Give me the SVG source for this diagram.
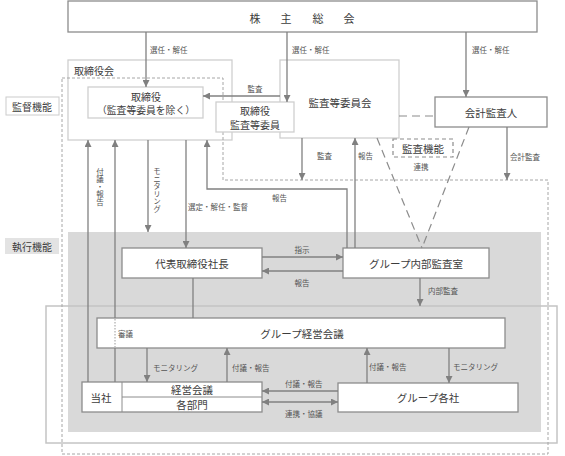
<svg xmlns="http://www.w3.org/2000/svg" width="565" height="456" viewBox="0 0 565 456">
<style>
text { font-family: "Noto Sans CJK JP", "Noto Sans CJK SC", sans-serif; fill:#3c3c3c; dominant-baseline: central; }
.m { font-size:10.5px; text-anchor: middle; }
.t { font-size:10px; text-anchor: middle; }
.s { font-size:7.5px; fill:#555; }
.sc { font-size:7.5px; fill:#555; text-anchor: middle; }
.v { font-size:7.5px; fill:#555; writing-mode: vertical-rl; text-anchor: middle; }
.box { fill:#fff; stroke:#8c8c8c; stroke-width:1.3; }
.lbox { fill:#fff; stroke:#cfcfcf; stroke-width:1.3; }
.a { stroke:#808080; stroke-width:1.3; fill:none; }
.dash { stroke:#8c8c8c; stroke-width:1.2; fill:none; stroke-dasharray:8 5; }
</style>
<defs>
<marker id="ah" viewBox="0 0 10 10" refX="10" refY="5" markerWidth="7" markerHeight="7" markerUnits="userSpaceOnUse" orient="auto-start-reverse"><path d="M0,0 L10,5 L0,10 z" fill="#808080"/></marker>
</defs>
<rect width="565" height="456" fill="#fff"/>

<g id="areas">
<rect x="68" y="232" width="473" height="200" fill="#d9d9d9"/>
<rect x="46" y="306" width="511" height="137" fill="none" stroke="#c4c4c4" stroke-width="1.5"/>
<rect id="lbl-kantoku" x="6" y="97" width="53" height="18" fill="#fff" stroke="#cccccc"/>
<text class="t" x="32" y="106">監督機能</text>
<rect id="lbl-shikko" x="5" y="238" width="54" height="16" fill="#e3e3e3"/>
<text class="t" x="32" y="246">執行機能</text>
</g>

<g id="shareholders">
<rect class="box" x="68" y="1" width="469" height="31"/>
<text x="255 286 318 349" y="18" style="font-size:11px;text-anchor:middle">株主総会</text>
</g>

<g id="board">
<rect class="lbox" x="68" y="60" width="164" height="80"/>
<text x="74" y="70" style="font-size:10px">取締役会</text>
</g>

<g id="audit-committee">
<rect class="lbox" x="280" y="60" width="119" height="78"/>
<text class="m" x="340" y="102">監査等委員会</text>
</g>

<path d="M62,78 H223 V180 H548 V454 H62 Z" fill="none" stroke="#a6a6a6" stroke-width="1" stroke-dasharray="3 2"/>

<g id="directors">
<rect class="lbox" x="88" y="87" width="115" height="31"/>
<text class="t" x="146" y="96">取締役</text>
<text class="t" x="146" y="110" style="font-size:9.8px">（監査等委員を除く）</text>
</g>

<g id="audit-directors">
<rect class="lbox" x="216" y="102" width="78" height="30"/>
<text class="t" x="255" y="110.5">取締役</text>
<text class="t" x="255" y="124.5">監査等委員</text>
</g>

<g id="accounting-auditor">
<rect class="box" x="435" y="97" width="112" height="30"/>
<text class="m" x="491" y="112">会計監査人</text>
</g>

<g id="audit-function">
<rect x="393" y="139" width="60" height="18" fill="#fff" stroke="#8c8c8c" stroke-width="1.2" stroke-dasharray="4 3"/>
<text class="m" x="423" y="148">監査機能</text>
</g>

<g id="president">
<rect class="box" x="122" y="248" width="140" height="30"/>
<text class="m" x="192" y="263">代表取締役社長</text>
</g>

<g id="internal-audit">
<rect class="box" x="343" y="248" width="146" height="30"/>
<text class="m" x="416" y="263">グループ内部監査室</text>
</g>

<g id="group-mgmt">
<rect class="box" x="97" y="318" width="408" height="30"/>
<text class="m" x="302" y="333">グループ経営会議</text>
</g>

<g id="company">
<rect class="box" x="82" y="382" width="180" height="30"/>
<path d="M122,382 V412 M122,397 H262" stroke="#8c8c8c" stroke-width="1" fill="none"/>
<text class="m" x="101" y="397">当社</text>
<text class="m" x="192" y="389.5">経営会議</text>
<text class="m" x="192" y="404.5">各部門</text>
</g>

<g id="group-companies">
<rect class="box" x="338" y="383" width="180" height="29"/>
<text class="m" x="428" y="397">グループ各社</text>
</g>

<g id="connectors">
<path class="a" d="M146,32 V87" marker-end="url(#ah)"/>
<text class="s" x="150" y="49">選任・解任</text>
<path class="a" d="M287,32 V102" marker-end="url(#ah)"/>
<text class="s" x="292" y="49">選任・解任</text>
<path class="a" d="M466,32 V97" marker-end="url(#ah)"/>
<text class="s" x="472" y="49">選任・解任</text>

<path class="a" d="M280,96 H203" marker-end="url(#ah)"/>
<text class="sc" x="255" y="88">監査</text>

<path class="dash" d="M399,116 H435"/>
<path class="dash" d="M377,138 L422,248"/>
<path class="dash" d="M469,127 L422,248"/>
<text class="sc" x="421" y="166">連携</text>

<path class="a" d="M302,138 V180" marker-end="url(#ah)"/>
<text class="s" x="317" y="155">監査</text>
<path class="a" d="M355,248 V138" marker-end="url(#ah)"/>
<text class="s" x="358" y="155">報告</text>
<path class="a" d="M507,127 V180" marker-end="url(#ah)"/>
<text class="s" x="510" y="156">会計監査</text>

<path class="a" d="M347,248 V189 H207 V140" marker-end="url(#ah)"/>
<text class="s" x="272" y="197">報告</text>

<path class="a" d="M88,382 V140" marker-end="url(#ah)"/>
<path class="a" d="M115,318 V140" marker-end="url(#ah)"/>
<path class="a" d="M115,382 V348"/>
<path d="M115,319 V347" stroke="#999" stroke-width="1" stroke-dasharray="1.5 1.5" fill="none"/>
<text class="v" x="100" y="187">付議・報告</text>

<path class="a" d="M148,140 V232" marker-end="url(#ah)"/>
<text class="v" x="157" y="190">モニタリング</text>

<path class="a" d="M186,140 V248" marker-end="url(#ah)"/>
<text class="s" x="188" y="206">選定・解任・監督</text>

<path class="a" d="M262,257 H343" marker-end="url(#ah)"/>
<text class="sc" x="302" y="249">指示</text>
<path class="a" d="M343,271 H262" marker-end="url(#ah)"/>
<text class="sc" x="302" y="282">報告</text>

<path class="a" d="M420,278 V306" marker-end="url(#ah)"/>
<text class="s" x="428" y="290">内部監査</text>

<path class="a" d="M193,278 V318"/>
<text class="s" x="118" y="333">審議</text>

<path class="a" d="M147,348 V382" marker-end="url(#ah)"/>
<text class="s" x="153" y="367">モニタリング</text>
<path class="a" d="M227,382 V348" marker-end="url(#ah)"/>
<text class="s" x="232" y="367">付議・報告</text>
<path class="a" d="M367,383 V348" marker-end="url(#ah)"/>
<text class="s" x="369" y="366">付議・報告</text>
<path class="a" d="M449,348 V383" marker-end="url(#ah)"/>
<text class="s" x="453" y="366">モニタリング</text>

<path class="a" d="M338,391 H262" marker-end="url(#ah)"/>
<text class="s" x="285" y="383">付議・報告</text>
<path class="a" d="M262,402 H338" marker-start="url(#ah)" marker-end="url(#ah)"/>
<text class="s" x="285" y="413">連携・協議</text>
</g>
</svg>
